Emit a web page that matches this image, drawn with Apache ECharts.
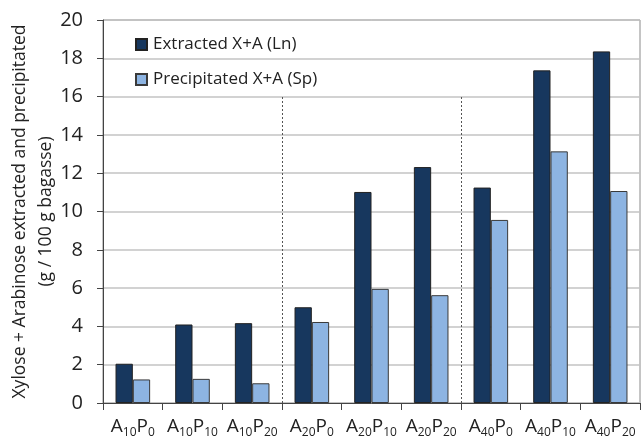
<!DOCTYPE html>
<html><head><meta charset="utf-8">
<script src="https://cdn.jsdelivr.net/npm/echarts@6/dist/echarts.min.js"></script>
<style>html,body{margin:0;padding:0;background:#fff}#c{width:644px;height:437px}</style>
</head><body><div id="c"></div>
<script>
var categories = ['A10P0','A10P10','A10P20','A20P0','A20P10','A20P20','A40P0','A40P10','A40P20'];
var extracted = [2.05, 4.1, 4.17, 5.0, 11.02, 12.32, 11.25, 17.37, 18.36];
var precipitated = [1.23, 1.26, 1.03, 4.23, 5.96, 5.63, 9.56, 13.14, 11.07];
var seriesNames = ['Extracted X+A (Ln)', 'Precipitated X+A (Sp)'];
var yTicks = [0, 2, 4, 6, 8, 10, 12, 14, 16, 18, 20];
var dividerAfter = [3, 6];
var dividerTop = 16;
var yTitle = 'Xylose + Arabinose extracted and precipitated\n(g / 100 g bagasse)';

var font = 'Open Sans';
var chart = echarts.init(document.getElementById('c'), null, {renderer:'canvas'});
chart.setOption({
  animation: false,
  textStyle: {fontFamily: font},
  grid: {left: 103, right: 4, top: 20, bottom: 34, show: true, borderColor: '#8a8a8a', borderWidth: 1,
         containLabel: false, outerBoundsMode: 'none'},
  legend: {
    orient: 'vertical', left: 130, top: 31, itemGap: 18,
    itemWidth: 11, itemHeight: 11, icon: 'rect',
    textStyle: {fontFamily: font, fontSize: 17, color: '#222', padding: [0, 0, 0, 1]},
    data: seriesNames
  },
  xAxis: [{
    type: 'category', data: categories,
    axisLine: {lineStyle: {color: '#444', width: 1}},
    axisTick: {show: true, interval: 0, length: 7, lineStyle: {color: '#444'}},
    axisLabel: {
      interval: 0, margin: 13, color: '#222',
      formatter: function (v) {
        var m = v.match(/^A(\d+)P(\d+)$/);
        return '{m|A}{s|' + m[1] + '}{m|P}{s|' + m[2] + '}';
      },
      rich: {
        m: {fontSize: 19, fontFamily: font, color: '#222', lineHeight: 22},
        s: {fontSize: 12, fontFamily: font, color: '#222', lineHeight: 22, padding: [11, 0, 0, 0]}
      }
    }
  }, {
    type: 'value', min: 0, max: categories.length, show: false
  }],
  yAxis: {
    type: 'value', min: yTicks[0], max: yTicks[yTicks.length - 1], interval: 2,
    name: yTitle, nameLocation: 'middle', nameRotate: 90, nameGap: 44, nameMoveOverlap: false,
    nameTextStyle: {fontSize: 17.5, fontFamily: font, color: '#222', lineHeight: 26},
    axisLine: {show: true, lineStyle: {color: '#444'}},
    axisTick: {show: true, length: 6, lineStyle: {color: '#444'}},
    axisLabel: {fontSize: 20, color: '#222', margin: 20, fontFamily: font},
    splitLine: {lineStyle: {color: '#c3c3c3', width: 1.5}}
  },
  series: [{
    name: seriesNames[0], type: 'bar', data: extracted, barGap: '0%', barCategoryGap: '42%',
    itemStyle: {color: '#17375e', borderColor: '#222', borderWidth: 1}
  }, {
    name: seriesNames[1], type: 'bar', data: precipitated, barGap: '0%', barCategoryGap: '42%',
    itemStyle: {color: '#8db4e2', borderColor: '#3a3a3a', borderWidth: 1}
  }, {
    type: 'line', xAxisIndex: 1, data: [], silent: true,
    markLine: {
      symbol: 'none', silent: true, label: {show: false},
      lineStyle: {color: '#555', type: [2, 2], width: 1},
      data: dividerAfter.map(function (d) { return [{coord: [d, 0]}, {coord: [d, dividerTop]}]; })
    }
  }]
});
</script></body></html>
